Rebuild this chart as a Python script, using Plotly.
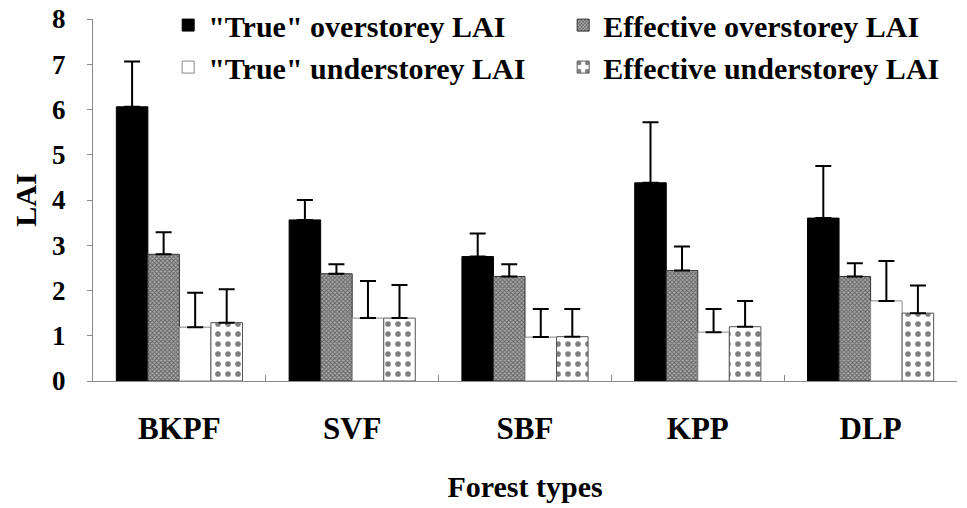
import plotly.graph_objects as go

# LAI by forest type (mean with upper error)
forest_types = ["BKPF", "SVF", "SBF", "KPP", "DLP"]

true_over = [6.06, 3.56, 2.75, 4.38, 3.60]
true_over_err = [1.00, 0.44, 0.51, 1.34, 1.15]

eff_over = [2.80, 2.37, 2.31, 2.44, 2.31]
eff_over_err = [0.49, 0.21, 0.27, 0.53, 0.29]

true_under = [1.19, 1.39, 0.97, 1.08, 1.77]
true_under_err = [0.76, 0.82, 0.62, 0.51, 0.88]

eff_under = [1.29, 1.39, 0.98, 1.20, 1.50]
eff_under_err = [0.74, 0.73, 0.61, 0.57, 0.61]

series_names = [
    '"True" overstorey LAI',
    "Effective overstorey LAI",
    '"True" understorey LAI',
    "Effective understorey LAI",
]

FONT = "Liberation Serif"


def err(vals):
    return dict(type="data", symmetric=False, array=vals,
                arrayminus=[0] * len(vals), color="black",
                thickness=2, width=8)


fig = go.Figure()

fig.add_trace(go.Bar(
    x=forest_types, y=true_over, name=series_names[0],
    marker=dict(color="black", line=dict(color="black", width=1)),
    error_y=err(true_over_err),
))
fig.add_trace(go.Bar(
    x=forest_types, y=eff_over, name=series_names[1],
    marker=dict(color="#a0a0a0", line=dict(color="#333333", width=1),
                pattern=dict(shape="x", size=3, solidity=0.5,
                             fgcolor="#1a1a1a", bgcolor="#a8a8a8")),
    error_y=err(eff_over_err),
))
fig.add_trace(go.Bar(
    x=forest_types, y=true_under, name=series_names[2],
    marker=dict(color="white", line=dict(color="#888888", width=1)),
    error_y=err(true_under_err),
))
fig.add_trace(go.Bar(
    x=forest_types, y=eff_under, name=series_names[3],
    marker=dict(color="white", line=dict(color="#555555", width=1),
                pattern=dict(shape=".", size=10, solidity=0.25,
                             fgcolor="black", bgcolor="white")),
    error_y=err(eff_under_err),
))

fig.update_layout(
    width=967, height=508,
    margin=dict(l=93, r=10, t=19, b=127, autoexpand=False),
    paper_bgcolor="white", plot_bgcolor="white",
    barmode="group", bargap=0.27, bargroupgap=0,
    font=dict(family=FONT, color="black", size=26),
    showlegend=True,
    legend=dict(
        orientation="h", x=0.087, y=1.055, xanchor="left", yanchor="top",
        entrywidth=350, entrywidthmode="pixels",
        font=dict(family=FONT, size=30, color="black", weight="bold"),
        bgcolor="rgba(0,0,0,0)", itemclick=False,
    ),
    xaxis=dict(
        showline=True, linecolor="#8a8a8a", linewidth=1,
        ticks="inside", tickson="boundaries", ticklen=6, tickcolor="#8a8a8a",
        tickfont=dict(family=FONT, size=31, weight="bold"),
        ticklabelstandoff=20,
        showgrid=False, zeroline=False,
        title=dict(text="Forest types", standoff=30,
                   font=dict(family=FONT, size=30, weight="bold")),
    ),
    yaxis=dict(
        range=[0, 8], dtick=1, showline=True, linecolor="#8a8a8a", linewidth=1,
        ticks="outside", ticklen=5, tickcolor="#8a8a8a",
        tickfont=dict(family=FONT, size=27, weight="bold"),
        ticklabelstandoff=16,
        showgrid=False, zeroline=False,
        title=dict(text="LAI", standoff=6,
                   font=dict(family=FONT, size=30, weight="bold")),
    ),
)

fig.write_html("out.html")
